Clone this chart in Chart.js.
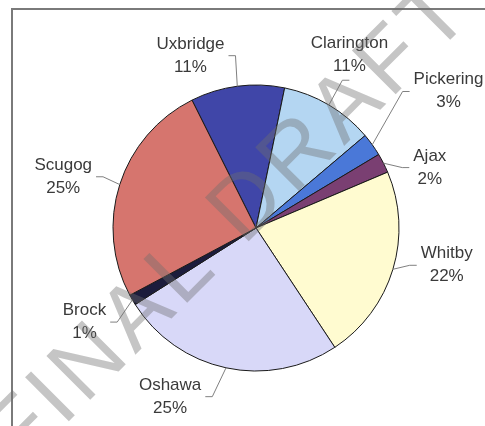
<!DOCTYPE html>
<html>
<head>
<meta charset="utf-8">
<script src="https://cdn.jsdelivr.net/npm/chart.js@4.4.1/dist/chart.umd.min.js"></script>
<style>
  html, body { margin: 0; padding: 0; background: #fff; }
  #wrap { width: 485px; height: 426px; }
</style>
</head>
<body>
<div id="wrap"><canvas id="pieChart" width="485" height="426"></canvas></div>
<script>
// slices clockwise, starting at Uxbridge
const towns = ["Uxbridge", "Clarington", "Pickering", "Ajax", "Whitby", "Oshawa", "Brock", "Scugog"];
const shares = [10.6, 10.6, 2.6, 2.2, 22.1, 25.3, 1.2, 25.4];
const sliceColors = ["#4046a8", "#b4d6f2", "#4a78d8", "#7a3f72", "#fffbd0", "#d8d8f8", "#1c1c3c", "#d6756e"];

const pieCtx = document.getElementById("pieChart");

// grey frame (top and left edges only, as in the scan)
const frame = {
  id: "frame",
  beforeDraw(chart) {
    const ctx = chart.ctx;
    ctx.save();
    ctx.fillStyle = "#fff";
    ctx.fillRect(0, 0, chart.width, chart.height);
    ctx.strokeStyle = "#7a7a7a";
    ctx.lineWidth = 2;
    ctx.beginPath();
    ctx.moveTo(12, chart.height);
    ctx.lineTo(12, 9);
    ctx.lineTo(chart.width, 9);
    ctx.stroke();
    ctx.restore();
  }
};

// category + percent labels outside the pie, with leader lines
const outsideLabels = {
  id: "outsideLabels",
  afterDatasetsDraw(chart, args, opts) {
    const ctx = chart.ctx;
    const meta = chart.getDatasetMeta(0);
    const data = chart.data.datasets[0].data;
    const total = data.reduce((a, b) => a + b, 0);
    ctx.save();
    ctx.font = opts.font;
    ctx.textAlign = "center";
    ctx.textBaseline = "alphabetic";
    meta.data.forEach((arc, i) => {
      const mid = (arc.startAngle + arc.endAngle) / 2;
      const ex = arc.x + arc.outerRadius * Math.cos(mid);
      const ey = arc.y + arc.outerRadius * Math.sin(mid);
      const d = arc.outerRadius + opts.distance;
      const nudge = opts.nudge[i] || [0, 0];
      const cx = arc.x + d * Math.cos(mid) + nudge[0];
      const cy = arc.y + d * Math.sin(mid) + nudge[1];
      const line1 = chart.data.labels[i];
      const line2 = Math.round(data[i] / total * 100) + "%";
      const w = Math.max(ctx.measureText(line1).width, ctx.measureText(line2).width);
      const left = cx - w / 2, right = cx + w / 2, bottom = cy + 18;

      let ax, ay, bx;
      if (ex >= left && ex <= right) { ax = cx; ay = bottom + 8; bx = ax + (ex < cx ? -7 : 7); }
      else if (ex > right) { ax = right + 4; ay = cy + 1; bx = ax + 7; }
      else { ax = left - 4; ay = cy + 1; bx = ax - 7; }
      ctx.strokeStyle = opts.lineColor;
      ctx.lineWidth = 1;
      ctx.beginPath();
      ctx.moveTo(ax, ay);
      ctx.lineTo(bx, ay);
      ctx.lineTo(ex, ey);
      ctx.stroke();

      ctx.fillStyle = opts.color;
      ctx.fillText(line1, cx, cy - 6);
      ctx.fillText(line2, cx, cy + 17);
    });
    ctx.restore();
  }
};

// diagonal "FINAL DRAFT" stamp
const watermark = {
  id: "watermark",
  afterDraw(chart, args, opts) {
    const ctx = chart.ctx;
    ctx.save();
    ctx.translate(opts.x, opts.y);
    ctx.rotate(opts.angle * Math.PI / 180);
    ctx.font = opts.font;
    ctx.fillStyle = opts.color;
    ctx.textBaseline = "alphabetic";
    let x = 0;
    for (const ch of opts.text) {
      ctx.fillText(ch, x, 0);
      x += ctx.measureText(ch).width + opts.spacing;
    }
    ctx.restore();
  }
};

new Chart(pieCtx, {
  type: "pie",
  data: {
    labels: towns,
    datasets: [{
      data: shares,
      backgroundColor: sliceColors,
      borderColor: "#1a1a1a",
      borderWidth: 1,
      radius: 143,
      hoverOffset: 0
    }]
  },
  options: {
    responsive: false,
    animation: false,
    events: [],
    rotation: -26.6,
    layout: { padding: { left: 27, top: 30, right: 0, bottom: 0 } },
    plugins: {
      legend: { display: false },
      tooltip: { enabled: false },
      outsideLabels: {
        font: "17px 'Liberation Sans', Arial, sans-serif",
        color: "#3a3a3a",
        lineColor: "#808080",
        distance: 52,
        nudge: [[-40, 20], [-6, -6], [34, -24], [0, 27], [4, -20], [-45, -23], [-3, -5], [-7, 7]]
      },
      watermark: {
        text: "FINAL DRAFT",
        font: "90px 'Liberation Sans', Arial, sans-serif",
        color: "rgba(110,110,110,0.4)",
        spacing: 6,
        angle: -45,
        x: 20,
        y: 470
      }
    }
  },
  plugins: [frame, outsideLabels, watermark]
});
</script>
</body>
</html>
